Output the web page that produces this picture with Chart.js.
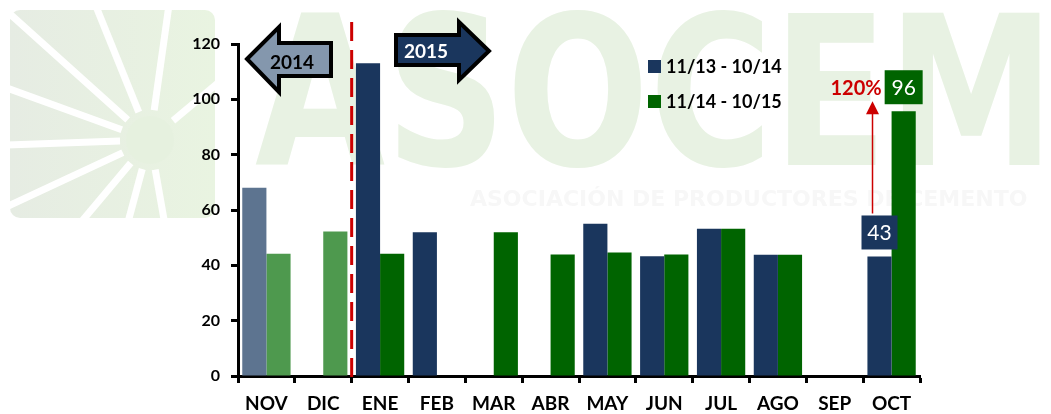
<!DOCTYPE html>
<html>
<head>
<meta charset="utf-8">
<script src="https://cdn.jsdelivr.net/npm/chart.js@4/dist/chart.umd.min.js"></script>
<style>
  html, body { margin: 0; padding: 0; background: #fff; }
  #wrap { width: 1051px; height: 414px; position: relative; }
</style>
</head>
<body>
<div id="wrap"><canvas id="DespachosChart"></canvas></div>
<script>
// data
const months = ['NOV', 'DIC', 'ENE', 'FEB', 'MAR', 'ABR', 'MAY', 'JUN', 'JUL', 'AGO', 'SEP', 'OCT'];
const seriesNames = ['11/13 - 10/14', '11/14 - 10/15'];
const prevPeriod = [68, null, 113, 52, null, null, 55, 43.3, 53.2, 43.8, null, 43.2];
const currPeriod = [44.2, 52.2, 44.2, null, 52, 43.9, 44.6, 43.9, 53.2, 43.8, null, 95.7];
const yTicks = [0, 20, 40, 60, 80, 100, 120];
const months2014 = 2; // NOV, DIC belong to 2014 -> faded bars
const boxLabels = ['43', '96'];
const growthLabel = '120%';

const NAVY = '#1a365d', NAVY_FADED = '#5d7490';
const GREEN = '#006400', GREEN_FADED = '#4e994e';
const FONT = 'Lato, "Open Sans", sans-serif';

function colorsFor(base, faded) {
    return months.map((m, i) => i < months2014 ? faded : base);
}

// background watermark (logo + letters)
const watermark = {
    id: 'watermark',
    beforeDraw(chart) {
        const ctx = chart.ctx;
        ctx.save();
        ctx.fillStyle = '#fff';
        ctx.fillRect(0, 0, chart.width, chart.height);

        // logo square with white rays
        const grd = ctx.createLinearGradient(10, 0, 215, 0);
        grd.addColorStop(0, '#e6ece3');
        grd.addColorStop(1, '#e9f4e1');
        ctx.fillStyle = grd;
        ctx.beginPath();
        ctx.roundRect(10, 10, 205, 208, 10);
        ctx.fill();
        ctx.strokeStyle = '#fff';
        ctx.lineWidth = 7;
        const cx = 150, cy = 140;
        [-82, -112, -138, -160, 178, 155, 130, 105, 80, -40].forEach(a => {
            const r = a * Math.PI / 180;
            ctx.beginPath();
            ctx.moveTo(cx + Math.cos(r) * 30, cy + Math.sin(r) * 30);
            ctx.lineTo(cx + Math.cos(r) * 260, cy + Math.sin(r) * 260);
            ctx.stroke();
        });
        ctx.fillStyle = '#e6f1df';
        ctx.beginPath();
        ctx.arc(cx, cy, 24, 0, Math.PI * 2);
        ctx.fill();
        ctx.fillStyle = '#fff';
        ctx.fillRect(216, 0, 30, 230);

        // big letters
        ctx.font = 'bold 208px "DejaVu Sans", sans-serif';
        ctx.textBaseline = 'alphabetic';
        const w = ctx.measureText('ASOCEM').width;
        ctx.translate(255, 165);
        ctx.scale(800 / w, 1);
        ctx.fillStyle = '#e8f2e3';
        ctx.fillText('ASOCEM', 0, 0);
        ctx.restore();

        ctx.save();
        ctx.font = 'bold 22px "DejaVu Sans", sans-serif';
        ctx.fillStyle = '#f7f7f7';
        ctx.textBaseline = 'middle';
        ctx.fillText('ASOCIACIÓN DE PRODUCTORES DE CEMENTO', 470, 200);
        ctx.restore();
    }
};

function blockArrow(ctx, pts, fill) {
    ctx.beginPath();
    pts.forEach((p, i) => i ? ctx.lineTo(p[0], p[1]) : ctx.moveTo(p[0], p[1]));
    ctx.closePath();
    ctx.fillStyle = fill;
    ctx.fill();
    ctx.lineWidth = 4;
    ctx.lineJoin = 'miter';
    ctx.strokeStyle = '#000';
    ctx.stroke();
}

const annotations = {
    id: 'annotations',
    afterDatasetsDraw(chart) {
        const ctx = chart.ctx;
        const x = chart.scales.x;
        const area = chart.chartArea;
        ctx.save();

        // year split line between DIC and ENE
        const splitX = (x.getPixelForValue(1) + x.getPixelForValue(2)) / 2;
        ctx.strokeStyle = '#cc0000';
        ctx.lineWidth = 3;
        ctx.setLineDash([19, 9]);
        ctx.beginPath();
        ctx.moveTo(splitX, 22);
        ctx.lineTo(splitX, area.bottom + 5);
        ctx.stroke();
        ctx.setLineDash([]);

        // year arrows
        blockArrow(ctx, [[247, 59], [279, 27], [279, 43], [331, 43], [331, 76], [279, 76], [279, 92]], '#8497ad');
        blockArrow(ctx, [[396, 35], [459, 35], [459, 22], [489, 51], [459, 80], [459, 65], [396, 65]], NAVY);
        ctx.font = 'bold 19px ' + FONT;
        ctx.textAlign = 'center';
        ctx.textBaseline = 'middle';
        ctx.fillStyle = '#000';
        ctx.fillText('2014', 292, 63);
        ctx.fillStyle = '#fff';
        ctx.fillText('2015', 426, 52);

        // legend
        ctx.textAlign = 'left';
        ctx.font = 'bold 18px ' + FONT;
        [NAVY, GREEN].forEach((c, i) => {
            const y = 66 + i * 35;
            ctx.fillStyle = c;
            ctx.fillRect(648, y - 6, 13, 13);
            ctx.fillStyle = '#000';
            ctx.fillText(seriesNames[i], 666, y + 1);
        });

        // OCT value boxes
        const last = months.length - 1;
        const bars = [chart.getDatasetMeta(0).data[last], chart.getDatasetMeta(1).data[last]];
        const boxes = [];
        bars.forEach((b, i) => {
            const bw = i ? 38 : 36, bh = 34;
            const bx = b.x - bw / 2, by = b.y - 7 - bh;
            boxes.push({ x: bx, y: by, w: bw, h: bh });
            ctx.fillStyle = i ? GREEN : NAVY;
            ctx.fillRect(bx, by, bw, bh);
            ctx.fillStyle = '#fff';
            ctx.font = '21px ' + FONT;
            ctx.textAlign = 'center';
            ctx.fillText(boxLabels[i], b.x, by + bh / 2 + 1);
        });

        // growth arrow
        const ax = boxes[0].x + 11;
        const tipY = boxes[1].y + boxes[1].h - 3;
        ctx.strokeStyle = '#cc0000';
        ctx.fillStyle = '#cc0000';
        ctx.lineWidth = 1.5;
        ctx.beginPath();
        ctx.moveTo(ax, boxes[0].y - 2);
        ctx.lineTo(ax, tipY + 12);
        ctx.stroke();
        ctx.beginPath();
        ctx.moveTo(ax, tipY);
        ctx.lineTo(ax - 6.5, tipY + 13);
        ctx.lineTo(ax + 6.5, tipY + 13);
        ctx.closePath();
        ctx.fill();
        ctx.font = 'bold 20px ' + FONT;
        ctx.textAlign = 'right';
        ctx.fillText(growthLabel, boxes[1].x - 3, boxes[1].y + boxes[1].h / 2 + 1);
        ctx.restore();
    }
};

const ctx = document.getElementById('DespachosChart').getContext('2d');
const chart = new Chart(ctx, {
    type: 'bar',
    data: {
        labels: months,
        datasets: [{
            label: seriesNames[0],
            data: prevPeriod,
            backgroundColor: colorsFor(NAVY, NAVY_FADED),
            borderWidth: 0
        }, {
            label: seriesNames[1],
            data: currPeriod,
            backgroundColor: colorsFor(GREEN, GREEN_FADED),
            borderWidth: 0
        }]
    },
    options: {
        responsive: true,
        maintainAspectRatio: false,
        animation: false,
        barPercentage: 1,
        categoryPercentage: 0.85,
        layout: { padding: { left: 0, right: 131, top: 44, bottom: 0 } },
        plugins: {
            legend: { display: false },
            tooltip: { enabled: false }
        },
        scales: {
            x: {
                offset: true,
                grid: {
                    offset: true,
                    drawOnChartArea: false,
                    drawTicks: true,
                    tickLength: 7,
                    tickWidth: 3,
                    tickColor: '#000'
                },
                border: { display: true, color: '#000', width: 3 },
                ticks: {
                    color: '#000',
                    padding: 9,
                    font: { family: FONT, size: 19, weight: 'bold' }
                },
                afterFit(scale) { scale.height = 38; }
            },
            y: {
                min: 0,
                max: 120,
                afterBuildTicks(scale) { scale.ticks = yTicks.map(v => ({ value: v })); },
                grid: {
                    drawOnChartArea: false,
                    drawTicks: true,
                    tickLength: 7,
                    tickWidth: 3,
                    tickColor: '#000'
                },
                border: { display: true, color: '#000', width: 3 },
                ticks: {
                    color: '#000',
                    padding: 11,
                    font: { family: FONT, size: 16, weight: 'bold' }
                },
                afterFit(scale) { scale.width = 238; }
            }
        }
    },
    plugins: [watermark, annotations]
});
</script>
</body>
</html>
